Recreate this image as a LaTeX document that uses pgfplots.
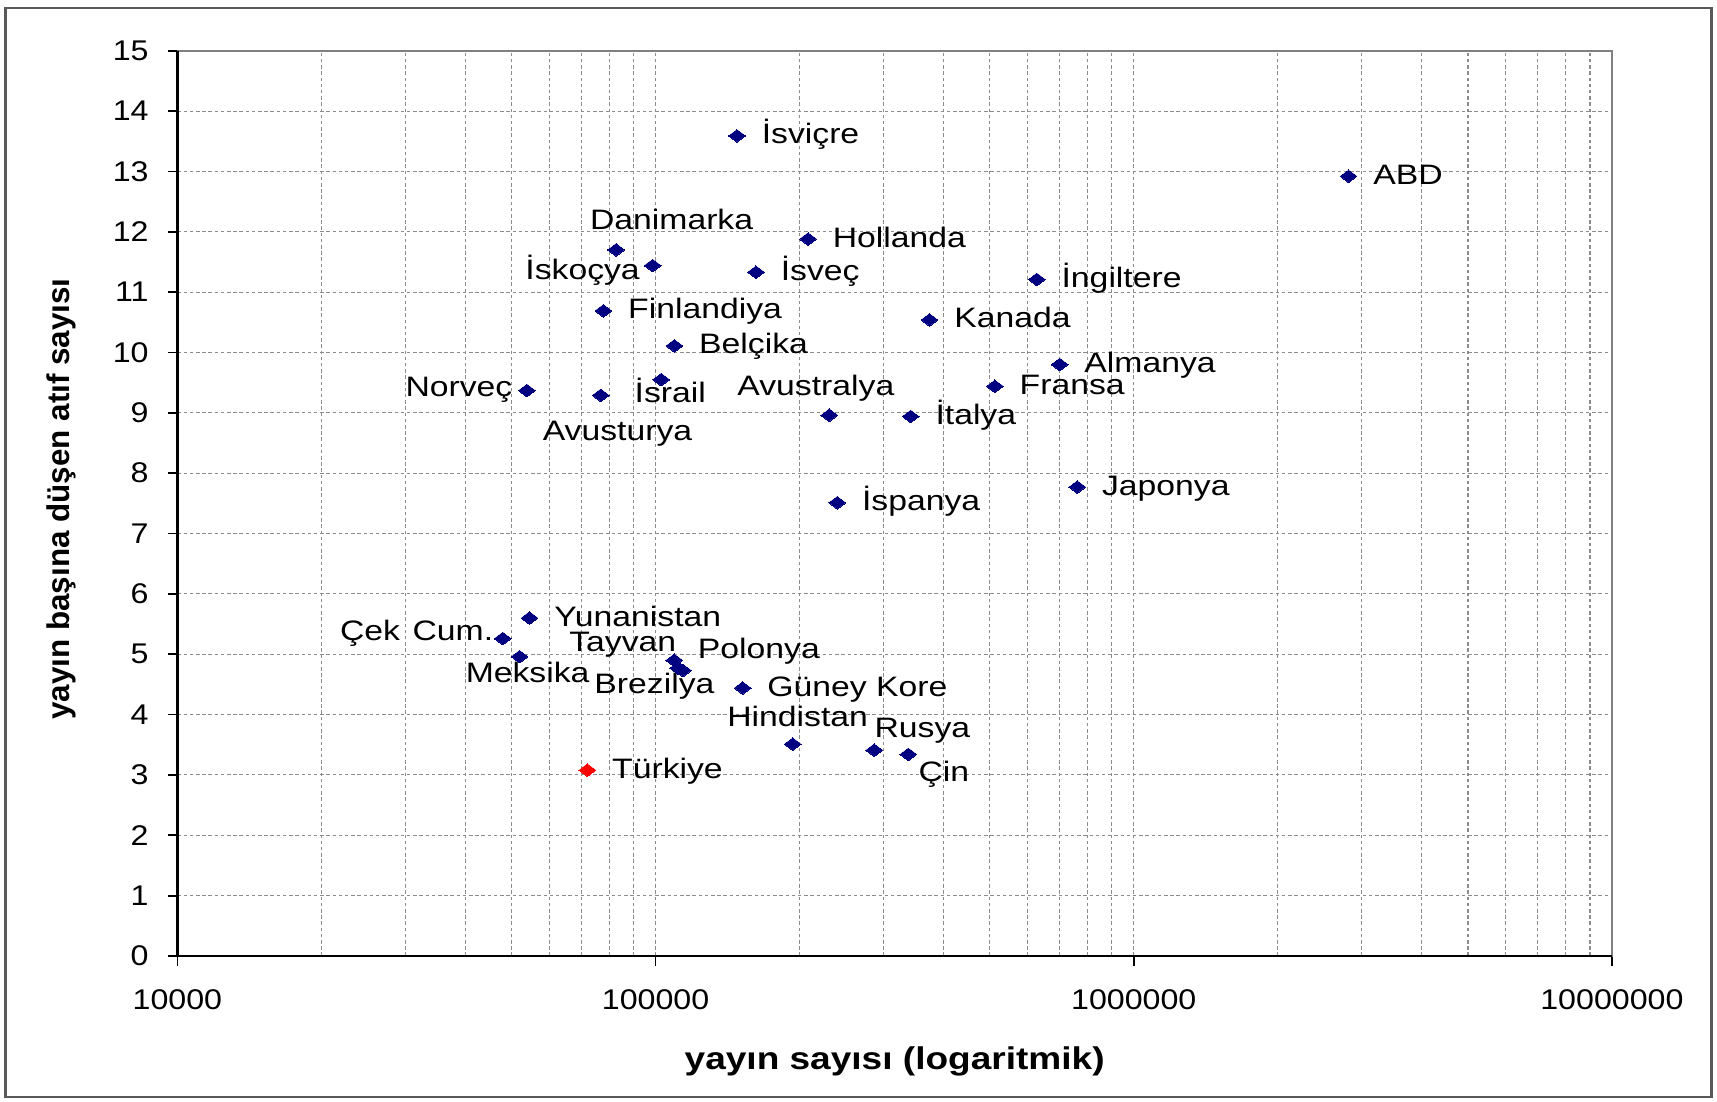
\documentclass[border=0pt]{standalone}
\usepackage{fontspec}
\setmainfont{Liberation Sans}
\newfontfamily\lblfont[FakeStretch=1.2]{Liberation Sans}
\newfontfamily\tickfont[FakeStretch=1.13]{Liberation Sans}
\newfontfamily\xtitlefont[FakeStretch=1.18]{Liberation Sans}
\usepackage{pgfplots}
\pgfplotsset{compat=1.18}
\definecolor{navyp}{HTML}{000080}
\definecolor{gridc}{HTML}{8C8C8C}
\newcommand{\lbl}[4][]{\node[inner sep=0pt, font=\lblfont\fontsize{7.7}{9}\selectfont, #1] at (axis cs:#2,#3) {#4};}
\newcommand{\rlbl}[3]{\lbl[anchor=base west, xshift=6.6pt, yshift=-2.2pt]{#1}{#2}{#3}}
\begin{document}
\begin{tikzpicture}
\useasboundingbox (-48.6pt,-39.9pt) rectangle (421.8pt,261.9pt);
\draw[black!65, line width=0.6pt] (-47.1pt,-38.7pt) rectangle (420.3pt,259.65pt);
\begin{axis}[
  at={(0pt,0pt)}, anchor=south west,
  scale only axis, width=393pt, height=248pt,
  xmode=log, xmin=10000, xmax=10000000, ymin=0, ymax=15,
  clip=false,
  xtick={10000,100000,1000000,10000000},
  xticklabels={10000,100000,1000000,10000000},
  minor xtick={20000,30000,40000,50000,60000,70000,80000,90000,200000,300000,400000,500000,600000,700000,800000,900000,2000000,3000000,4000000,5000000,6000000,7000000,8000000,9000000},
  ytick={0,1,2,3,4,5,6,7,8,9,10,11,12,13,14,15},
  yticklabels={0,1,2,3,4,5,6,7,8,9,10,11,12,13,14,15},
  xmajorgrids, xminorgrids, ymajorgrids,
  grid style={gridc, dash pattern=on 0.95pt off 0.75pt, line width=0.3pt},
  minor grid style={gridc, dash pattern=on 0.95pt off 0.75pt, line width=0.3pt},
  major grid style={gridc, dash pattern=on 0.95pt off 0.75pt, line width=0.3pt},
  tick align=outside, xtick pos=left, ytick pos=left,
  major tick length=2.7pt, minor tick length=0pt,
  major tick style={black, line width=0.5pt},
  axis line style={black!50, line width=0.45pt},
  /pgf/number format/assume math mode=true,
  tick label style={font=\tickfont\fontsize{7.8}{9}\selectfont, inner sep=0pt},
  xticklabel style={anchor=north, yshift=-6.2pt},
  yticklabel style={anchor=east, xshift=-5pt},
  xlabel={\xtitlefont\bfseries yayın sayısı (logaritmik)},
  ylabel={\bfseries yayın başına düşen atıf sayısı},
  xlabel style={at={(axis description cs:0.5,0)}, anchor=base, yshift=-31.2pt, inner sep=0pt, font=\fontsize{8.6}{10}\selectfont},
  ylabel style={at={(axis description cs:0,0.5)}, anchor=base, xshift=1.2pt, yshift=29.7pt, inner sep=0pt, font=\fontsize{8.6}{10}\selectfont},
]
\addplot[only marks, mark=diamond*, mark size=2.3pt, mark options={rotate=90, fill=navyp, draw=navyp, line width=0pt}] coordinates {
(148000,13.59) (2814000,12.92) (82700,11.70) (208400,11.88) (98600,11.44)
(162200,11.33) (627000,11.21) (77800,10.69) (374000,10.54) (109500,10.11)
(700000,9.80) (102700,9.55) (53800,9.37) (76800,9.29) (512400,9.44)
(230900,8.96) (341600,8.94) (762000,7.77) (239900,7.51) (54500,5.60)
(47900,5.26) (51950,4.96) (109400,4.90) (111500,4.77) (114100,4.73)
(152100,4.44) (193600,3.51) (286600,3.41) (337700,3.34)
};
\addplot[only marks, mark=diamond*, mark size=2.3pt, mark options={rotate=90, fill=red, draw=red, line width=0pt}] coordinates {
(72000,3.08)
};
\draw[black, line width=0.65pt] (rel axis cs:0,1) -- (rel axis cs:0,0) -- (rel axis cs:1,0);
\rlbl{148000}{13.59}{İsviçre}
\rlbl{2814000}{12.92}{ABD}
\lbl[anchor=base, xshift=15.2pt, yshift=5.6pt]{82700}{11.70}{Danimarka}
\rlbl{208400}{11.88}{Hollanda}
\lbl[anchor=base, xshift=-19.2pt, yshift=-3.8pt]{98600}{11.44}{İskoçya}
\rlbl{162200}{11.33}{İsveç}
\rlbl{627000}{11.21}{İngiltere}
\rlbl{77800}{10.69}{Finlandiya}
\rlbl{374000}{10.54}{Kanada}
\rlbl{109500}{10.11}{Belçika}
\rlbl{700000}{9.80}{Almanya}
\lbl[anchor=base, xshift=2.5pt, yshift=-6.2pt]{102700}{9.55}{İsrail}
\lbl[anchor=base, xshift=-18.6pt, yshift=-1.6pt]{53800}{9.37}{Norveç}
\lbl[anchor=base, xshift=4.6pt, yshift=-12.3pt]{76800}{9.29}{Avusturya}
\rlbl{512400}{9.44}{Fransa}
\lbl[anchor=base, xshift=-3.7pt, yshift=5.3pt]{230900}{8.96}{Avustralya}
\rlbl{341600}{8.94}{İtalya}
\rlbl{762000}{7.77}{Japonya}
\rlbl{239900}{7.51}{İspanya}
\rlbl{54500}{5.60}{Yunanistan}
\lbl[anchor=base east, xshift=-2.4pt, yshift=-0.5pt]{47900}{5.26}{Çek\hspace{0.45em}Cum.}
\lbl[anchor=base, xshift=2.2pt, yshift=-7.0pt]{51950}{4.96}{Meksika}
\lbl[anchor=base, xshift=-14.1pt, yshift=2.3pt]{109400}{4.90}{Tayvan}
\lbl[anchor=base, xshift=-6.5pt, yshift=-7.0pt]{111500}{4.77}{Brezilya}
\lbl[anchor=base, xshift=20.8pt, yshift=3.4pt]{114100}{4.73}{Polonya}
\rlbl{152100}{4.44}{Güney Kore}
\lbl[anchor=base, xshift=1.35pt, yshift=4.8pt]{193600}{3.51}{Hindistan}
\lbl[anchor=base, xshift=13.2pt, yshift=3.4pt]{286600}{3.41}{Rusya}
\lbl[anchor=base, xshift=9.75pt, yshift=-7.5pt]{337700}{3.34}{Çin}
\rlbl{72000}{3.08}{Türkiye}
\end{axis}
\end{tikzpicture}
\end{document}
